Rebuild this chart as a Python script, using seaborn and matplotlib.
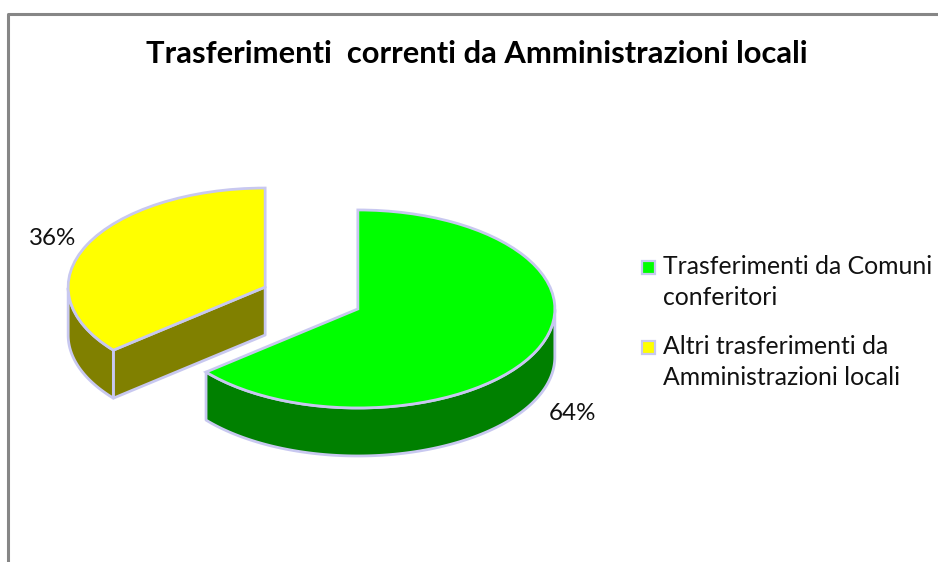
import numpy as np
import seaborn as sns
import matplotlib
matplotlib.use("Agg")
import matplotlib.pyplot as plt
from matplotlib.patches import Rectangle

# Data
categories = ["Trasferimenti da Comuni\nconferitori",
              "Altri trasferimenti da\nAmministrazioni locali"]
shares = [64, 36]
share_labels = ["64%", "36%"]
title = "Trasferimenti  correnti da Amministrazioni locali"

top_colors = ["#00ff00", "#ffff00"]
side_colors = ["#008000", "#808000"]
edge = "#c8c8f0"

sns.set_theme(style="white")
plt.rcParams["font.family"] = ["Lato", "DejaVu Sans"]

W, H = 938, 562
fig = plt.figure(figsize=(W / 100, H / 100), dpi=100)
ax = fig.add_axes([0, 0, 1, 1])

# one pie unit in pixels, flattened to look like a 3D pie
rx, ry = 197, 99
cx, cy = 311.5, 298
depth = 0.485
explode = [0.26, 0.26]

wedges, _ = ax.pie(shares, colors=top_colors, startangle=90, counterclock=False,
                   explode=explode, wedgeprops=dict(edgecolor=edge, linewidth=2, zorder=5))
ax.set_aspect("auto")
ax.set_xlim(-cx / rx, (W - cx) / rx)
ax.set_ylim((cy - H) / ry, cy / ry)
ax.axis("off")


def side(wedge, color):
    # walls of a slice, only the parts facing the viewer
    x0, y0 = wedge.center
    t = np.radians(np.linspace(wedge.theta1, wedge.theta2, 200))
    xs, ys = x0 + np.cos(t), y0 + np.sin(t)
    front = np.sin(t) <= 0
    fx_, fy_ = xs[front], ys[front]
    ax.fill(np.r_[fx_, fx_[::-1]], np.r_[fy_, fy_[::-1] - depth], color=color,
            ec=edge, lw=2, zorder=3, joinstyle="round")
    # straight cut wall, only seen on the left slice
    if x0 < 0:
        xe, ye = xs[ys.argmin()], ys.min()
        ax.fill([x0, xe, xe, x0], [y0, ye, ye - depth, y0 - depth], color=color,
                ec=edge, lw=2, zorder=2, joinstyle="round")


for w, c in zip(wedges, side_colors):
    side(w, c)


def fx(px):
    return px / W


def fy(py):
    return 1 - py / H


# frame, open on right and bottom
fig.add_artist(plt.Line2D([fx(8), fx(8), 1], [0, fy(14), fy(14)], color="#868686", lw=2.2))

fig.text(fx(477), fy(54), title, ha="center", va="center", fontsize=22.2,
         fontweight="bold", color="black")

fig.text(fx(572), fy(414), share_labels[0], ha="center", va="center", fontsize=17.4, color="#111111")
fig.text(fx(53), fy(238), share_labels[1], ha="center", va="center", fontsize=17.4, color="#111111")

# legend
leg_y = [267, 347]
for cat, col, y in zip(categories, top_colors, leg_y):
    fig.add_artist(Rectangle((fx(641.5), fy(y + 6.5)), 13 / W, 13 / H, transform=fig.transFigure,
                             fc=col, ec=edge, lw=1.6))
    fig.text(fx(663), fy(y + 15), cat, ha="left", va="center", fontsize=17.8,
             color="#111111", linespacing=1.45)

fig.savefig("out.png", dpi=100)
